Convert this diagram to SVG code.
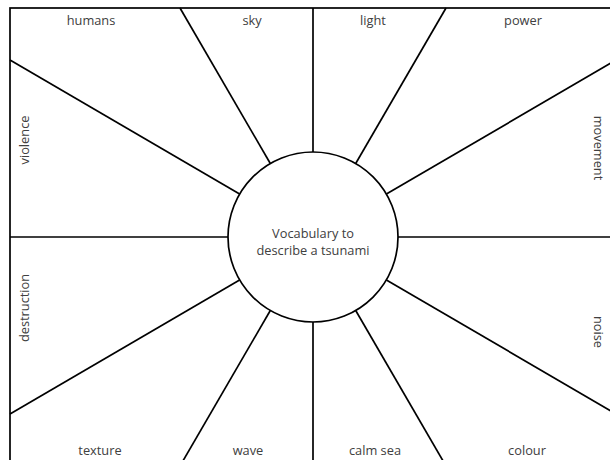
<svg xmlns="http://www.w3.org/2000/svg" width="610" height="460" viewBox="0 0 610 460">
<style>
.ln{stroke:#000;stroke-width:1.7;fill:none}
.t{font-family:"Open Sans","Liberation Sans",sans-serif;font-size:12.8px;fill:#404040;text-anchor:middle}
</style>
<rect x="0" y="0" width="610" height="460" fill="#fff"/>
<g id="connectors">
<rect class="ln" x="10" y="8" width="606" height="458"/>
<line class="ln" x1="313" y1="8" x2="313" y2="152"/>
<line class="ln" x1="313" y1="322" x2="313" y2="466"/>
<line class="ln" x1="10" y1="237" x2="228" y2="237"/>
<line class="ln" x1="398" y1="237" x2="616" y2="237"/>
<line class="ln" x1="180" y1="8" x2="270.3" y2="163.5"/>
<line class="ln" x1="446" y1="8" x2="355.7" y2="163.5"/>
<line class="ln" x1="180" y1="466" x2="270.3" y2="310.5"/>
<line class="ln" x1="446" y1="466" x2="355.7" y2="310.5"/>
<line class="ln" x1="10" y1="60" x2="239.6" y2="194.1"/>
<line class="ln" x1="616" y1="60" x2="386.4" y2="194.1"/>
<line class="ln" x1="10" y1="414" x2="239.6" y2="279.9"/>
<line class="ln" x1="616" y1="414" x2="386.4" y2="279.9"/>
</g>
<g id="center">
<circle class="ln" cx="313" cy="237" r="85" fill="#fff"/>
<text class="t" x="313" y="238">Vocabulary to</text>
<text class="t" x="313" y="255">describe a tsunami</text>
</g>
<g id="humans"><text class="t" x="91" y="25">humans</text></g>
<g id="sky"><text class="t" x="252" y="25">sky</text></g>
<g id="light"><text class="t" x="373" y="25">light</text></g>
<g id="power"><text class="t" x="523" y="25">power</text></g>
<g id="violence"><text class="t" transform="translate(29,140) rotate(-90)">violence</text></g>
<g id="destruction"><text class="t" transform="translate(29,308) rotate(-90)">destruction</text></g>
<g id="movement"><text class="t" transform="translate(594,148) rotate(90)">movement</text></g>
<g id="noise"><text class="t" transform="translate(594,332) rotate(90)">noise</text></g>
<g id="texture"><text class="t" x="100" y="455">texture</text></g>
<g id="wave"><text class="t" x="248" y="455">wave</text></g>
<g id="calmsea"><text class="t" x="375" y="455">calm sea</text></g>
<g id="colour"><text class="t" x="527" y="455">colour</text></g>
</svg>
